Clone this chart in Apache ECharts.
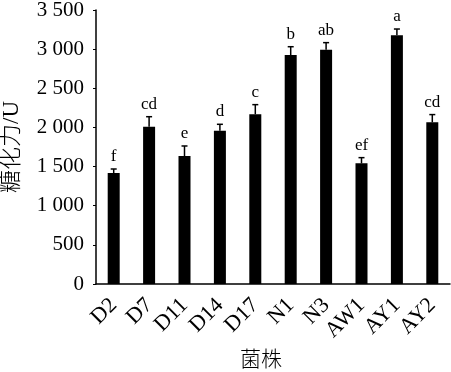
<!DOCTYPE html>
<html><head><meta charset="utf-8">
<script src="https://cdn.jsdelivr.net/npm/echarts@6/dist/echarts.min.js"></script>
<style>html,body{margin:0;padding:0;background:#fff}#c{width:451px;height:372px}</style>
</head><body><div id="c"></div>
<script>
var categories = ['D2','D7','D11','D14','D17','N1','N3','AW1','AY1','AY2'];
var values = [1418, 2009, 1635, 1958, 2168, 2925, 2993, 1541, 3177, 2065];
var errors = [51, 128, 128, 82, 123, 106, 90, 73, 80, 99];
var letters = ['f','cd','e','d','c','b','ab','ef','a','cd'];
var yTicks = [0, 500, 1000, 1500, 2000, 2500, 3000, 3500];

var serif = "'Liberation Serif','Times New Roman','Noto Sans CJK SC',serif";
var chart = echarts.init(document.getElementById('c'));
var errData = categories.map(function(c,i){ return [i, values[i], values[i]+errors[i], letters[i]]; });
chart.setOption({
  animation:false,
  grid:{left:96, right:1, top:10, bottom:88, containLabel:false, outerBoundsMode:'none'},
  xAxis:{
    type:'category', data:categories,
    axisLine:{lineStyle:{color:'#000', width:1.5}},
    axisTick:{show:false},
    axisLabel:{rotate:45, color:'#000', fontFamily:serif, fontSize:22, margin:18, interval:0}
  },
  yAxis:{
    type:'value', min:0, max:3500, interval:500,
    name:'糖化力/U', nameLocation:'middle', nameGap:73, nameRotate:90,
    nameTextStyle:{color:'#000', fontFamily:serif, fontSize:23, fontWeight:300},
    axisLine:{show:true, lineStyle:{color:'#000', width:1.5}},
    axisTick:{show:true, length:3, lineStyle:{color:'#000', width:1}},
    splitLine:{show:false},
    axisLabel:{color:'#000', fontFamily:serif, fontSize:21, margin:12,
      formatter:function(v){ return yTicks.indexOf(v)>=0 ? String(v).replace(/\B(?=(\d{3})+(?!\d))/g,' ') : ''; }}
  },
  graphic:[{type:'text', left:240, top:350, style:{text:'菌株', font:"300 21px "+serif, fill:'#000'}}],
  series:[
    {type:'bar', data:values, barWidth:12, itemStyle:{color:'#000'}},
    {type:'custom', data:errData, z:5,
      renderItem:function(params, api){
        var x = api.coord([api.value(0), api.value(1)]);
        var t = api.coord([api.value(0), api.value(2)]);
        var cap = 3;
        return {type:'group', children:[
          {type:'line', shape:{x1:x[0], y1:x[1], x2:t[0], y2:t[1]}, style:{stroke:'#000', lineWidth:1.5}},
          {type:'line', shape:{x1:t[0]-cap, y1:t[1], x2:t[0]+cap, y2:t[1]}, style:{stroke:'#000', lineWidth:1.5}},
          {type:'text', x:t[0], y:t[1]-4, style:{text:letters[params.dataIndex], font:"17px "+serif, fill:'#000', align:'center', verticalAlign:'bottom'}}
        ]};
      }}
  ]
});
</script></body></html>
